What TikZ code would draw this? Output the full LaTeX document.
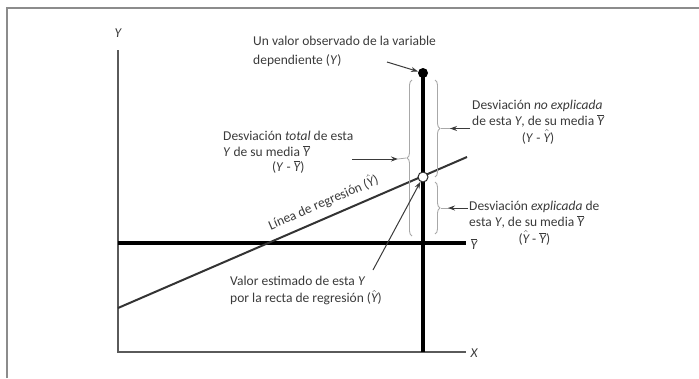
\documentclass[tikz,border=0pt]{standalone}
\usepackage{fontspec}
\setmainfont{Carlito}
\usetikzlibrary{decorations.pathreplacing,arrows.meta}
\newcommand{\Yv}{\textit{Y}}
\newcommand{\Ybar}{$\overline{\hbox{\itshape Y}}$}
\newcommand{\Yhat}{$\hat{\hbox{\itshape Y}}$}
\definecolor{txt}{HTML}{3A3A3A}
\definecolor{axisc}{HTML}{5A5A5A}
\definecolor{framec}{HTML}{8C8C8C}
\definecolor{bracec}{HTML}{A8A8A8}
\begin{document}
\begin{tikzpicture}[x=1pt,y=-1pt,
  lbl/.style={inner sep=0pt,anchor=north west,text=txt,font=\fontsize{13.5}{15.5}\selectfont},
  axlbl/.style={inner sep=0pt,text=txt,font=\fontsize{13.5}{15.5}\selectfont\itshape},
  axisline/.style={axisc,line width=1.4pt},
  thickline/.style={black,line width=3.4pt},
  regline/.style={black!80,line width=2pt},
  bracestyle/.style={bracec,line width=0.9pt,decorate,decoration={brace,amplitude=5pt}},
  pointer/.style={txt,line width=1pt,-{Stealth[length=7pt,width=5pt]}},
  tail/.style={bracec,line width=0.8pt}]
\useasboundingbox (0,0) rectangle (699,378);
% frame
\draw[framec,line width=1.5pt] (7,378) -- (7,8) -- (699,8);
% axes
\coordinate (O) at (118,352);
\coordinate (Ytop) at (118,50);
\coordinate (Xend) at (466,352);
\draw[axisline] (Ytop) -- (O) -- (Xend);
\node[axlbl] (ylab) at (118,33) {Y};
\node[axlbl] (xlab) at (474,353) {X};
% mean line
\coordinate (mL) at (118,243);
\coordinate (mR) at (466,243);
\draw[thickline] (mL) -- (mR);
\node[axlbl,font=\fontsize{13.5}{15.5}\selectfont] (ybarlab) at (474,244) {\Ybar};
% regression line
\coordinate (rL) at (118,308);
\coordinate (rR) at (467,157);
\draw[regline] (rL) -- (rR);
\node[axlbl,font=\fontsize{13.5}{15.5}\selectfont,rotate=23.4] (reglab) at (323,202) {Línea de regresión (\Yhat)};
% vertical observed line
\coordinate (vb) at (423,352);
\coordinate (obs) at (423,73);
\draw[thickline] (vb) -- (obs);
\node[circle,fill=black,inner sep=0pt,minimum size=10pt] (dot) at (obs) {};
\node[circle,draw=black!85,line width=1pt,fill=white,inner sep=0pt,minimum size=10pt] (est) at (423,177) {};
% braces
\draw[bracestyle] (412,236) -- (412,80);
\coordinate (bT) at (406,158);
\draw[bracestyle] (435,80) -- (435,177);
\coordinate (bU) at (441,128.5);
\draw[bracestyle] (435,182) -- (435,234);
\coordinate (bE) at (441,208);
% labels
\node[lbl] (obslab) at (253,34.7) {\begin{tabular}{@{}l@{}}Un valor observado de la variable\\[3.5pt] dependiente (\Yv)\end{tabular}};
\node[lbl] (totlab) at (223,129.7) {\begin{tabular}{@{}l@{}}Desviación \textit{total} de esta\\ \Yv{} de su media \Ybar\\ \multicolumn{1}{@{}c@{}}{(\Yv{} - \Ybar)}\end{tabular}};
\node[lbl] (unlab) at (472,98.7) {\begin{tabular}{@{}l@{}}Desviación \textit{no explicada}\\ de esta \Yv, de su media \Ybar\\ \multicolumn{1}{@{}c@{}}{(\Yv{} - \Yhat)}\end{tabular}};
\node[lbl] (exlab) at (469,199.7) {\begin{tabular}{@{}l@{}}Desviación \textit{explicada} de\\ esta \Yv, de su media \Ybar\\ \multicolumn{1}{@{}c@{}}{(\Yhat{} - \Ybar)}\end{tabular}};
\node[lbl] (estlab) at (230,274.7) {\begin{tabular}{@{}l@{}}Valor estimado de esta \Yv\\ por la recta de regresión (\Yhat)\end{tabular}};
% pointers
\coordinate (p1s) at (387,62);
\draw[pointer] (p1s) -- (dot);
\coordinate (p2s) at (352,159);
\coordinate (p2e) at (398,159);
\draw[tail] (p2e) -- (bT);
\draw[pointer] (p2s) -- (p2e);
\coordinate (p3s) at (470,128.5);
\draw[tail] (bU) -- (p3s);
\draw[pointer] (p3s) -- ++(-20,0);
\coordinate (p4s) at (468,208);
\draw[tail] (bE) -- (p4s);
\draw[pointer] (p4s) -- ++(-20,0);
\coordinate (p5s) at (373,270);
\draw[pointer] (p5s) -- (est);
\end{tikzpicture}
\end{document}
